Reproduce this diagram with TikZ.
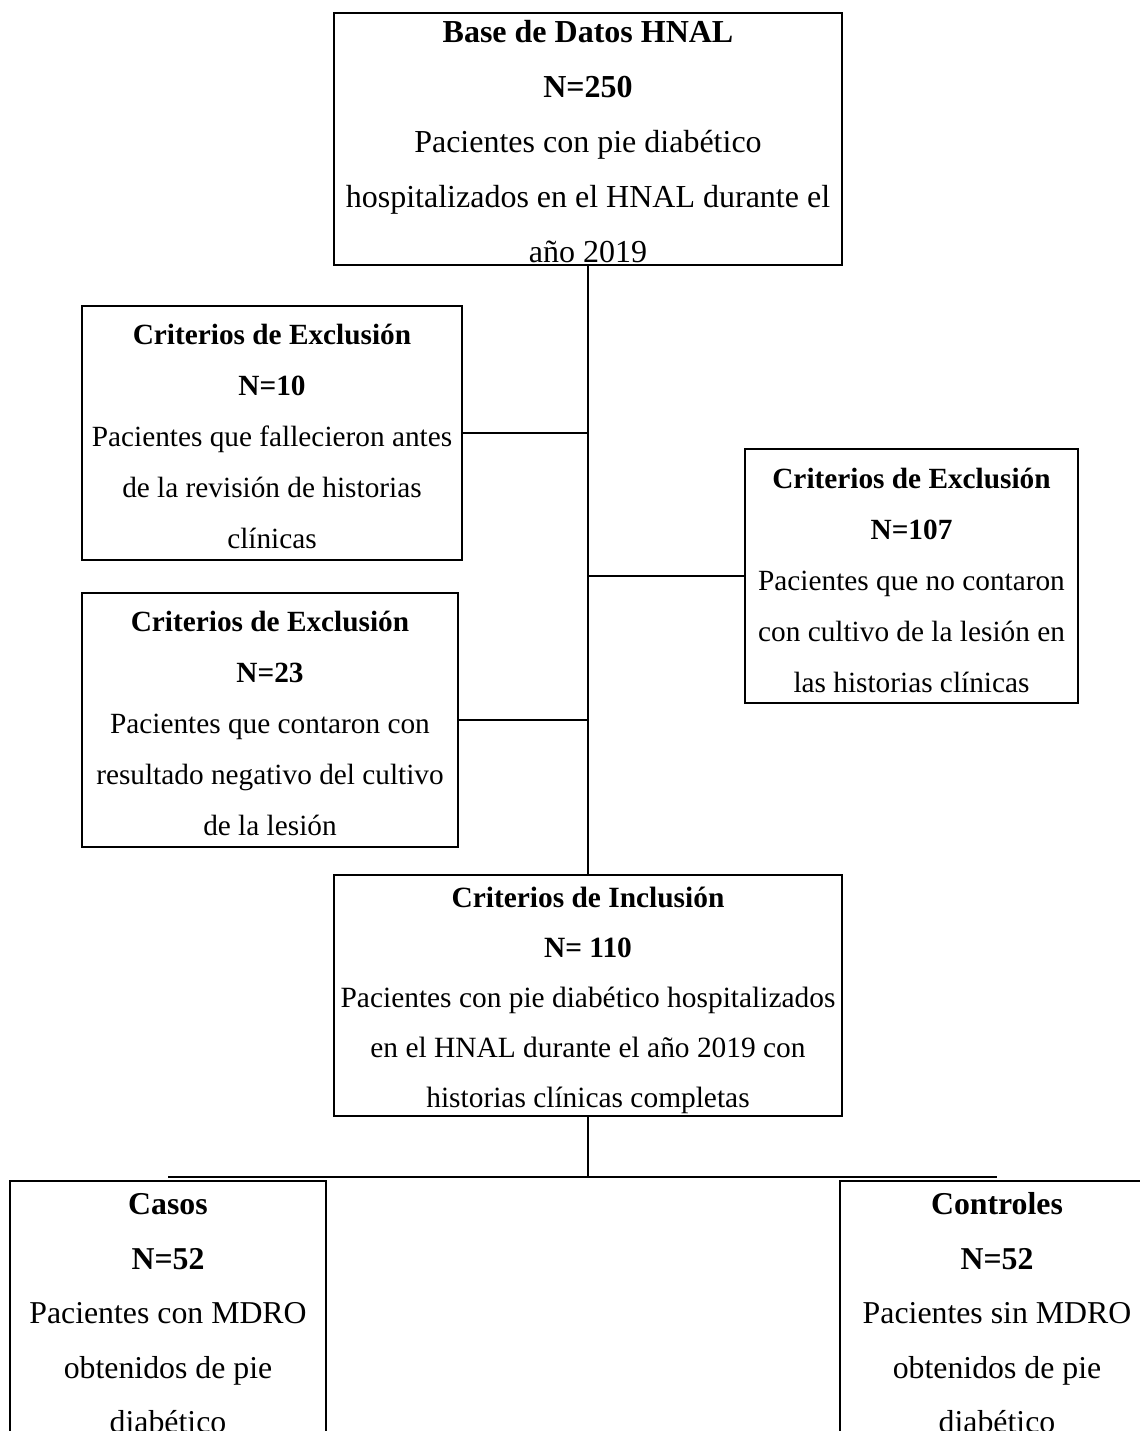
\documentclass[tikz,border=0pt]{standalone}
\usepackage{fontspec}
\setmainfont{Liberation Serif}
\usepackage{tikz}

\tikzset{
  caja/.style={draw=black, line width=1pt, inner sep=0pt, minimum height=127pt},
  texto/.style={inner sep=0pt, align=center, anchor=north, font=\fontsize{14.65}{25.5}\selectfont},
  linea/.style={line width=1pt},
  tronco/.style={line width=1.4pt}
}

\begin{document}
\begin{tikzpicture}[x=0.5pt,y=-0.5pt]
\useasboundingbox (0,0) rectangle (1140,1431);
\clip (0,0) rectangle (1140,1431);

\node[caja, minimum width=254pt, minimum height=126pt] (base) at (588,139) {};
\node[caja, minimum width=190pt] (excl1) at (272,433) {};
\node[caja, minimum width=188pt] (excl2) at (270,720) {};
\node[caja, minimum width=166.5pt] (excl3) at (911.5,576) {};
\node[caja, minimum width=254pt, minimum height=120.5pt] (incl) at (588,995.5) {};
\node[caja, minimum width=158pt, minimum height=160pt] (casos) at (168,1341) {};
\node[caja, minimum width=157pt, minimum height=160pt] (ctrl) at (997,1341) {};

\node[texto, font=\fontsize{16}{27.5}\selectfont] (baset) at (588,3.2)
	{\strut\textbf{Base de Datos HNAL}\\ \textbf{N=250}\\ Pacientes con pie diabético\\ hospitalizados en el HNAL durante el\\ año 2019};
\node[texto] (excl1t) at (272,308)
	{\strut\textbf{Criterios de Exclusión}\\ \textbf{N=10}\\ Pacientes que fallecieron antes\\ de la revisión de historias\\ clínicas};
\node[texto] (excl2t) at (270,595)
	{\strut\textbf{Criterios de Exclusión}\\ \textbf{N=23}\\ Pacientes que contaron con\\ resultado negativo del cultivo\\ de la lesión};
\node[texto] (excl3t) at (911.5,452.5)
	{\strut\textbf{Criterios de Exclusión}\\ \textbf{N=107}\\ Pacientes que no contaron\\ con cultivo de la lesión en\\ las historias clínicas};
\node[texto, font=\fontsize{14.7}{25}\selectfont] (inclt) at (588,872)
	{\strut\textbf{Criterios de Inclusión}\\ \textbf{N= 110}\\ Pacientes con pie diabético hospitalizados\\ en el HNAL durante el año 2019 con\\ historias clínicas completas};
\node[texto, font=\fontsize{15.9}{27.25}\selectfont] (casost) at (168,1176)
	{\strut\textbf{Casos}\\ \textbf{N=52}\\ Pacientes con MDRO\\ obtenidos de pie\\ diabético};
\node[texto, font=\fontsize{15.9}{27.25}\selectfont] (ctrlt) at (997,1176)
	{\strut\textbf{Controles}\\ \textbf{N=52}\\ Pacientes sin MDRO\\ obtenidos de pie\\ diabético};

\coordinate (fork) at (588,1177);
\draw[tronco] (base.south) -- (base.south |- incl.north);
\draw[linea] (excl1.east) -- (excl1.east -| base.south);
\draw[linea] (excl2.east) -- (excl2.east -| base.south);
\draw[linea] (excl3.west) -- (excl3.west -| base.south);
\draw[tronco] (incl.south) -- (fork);
\draw[linea] (casos.north |- fork) -- (ctrl.north |- fork);
\end{tikzpicture}
\end{document}
